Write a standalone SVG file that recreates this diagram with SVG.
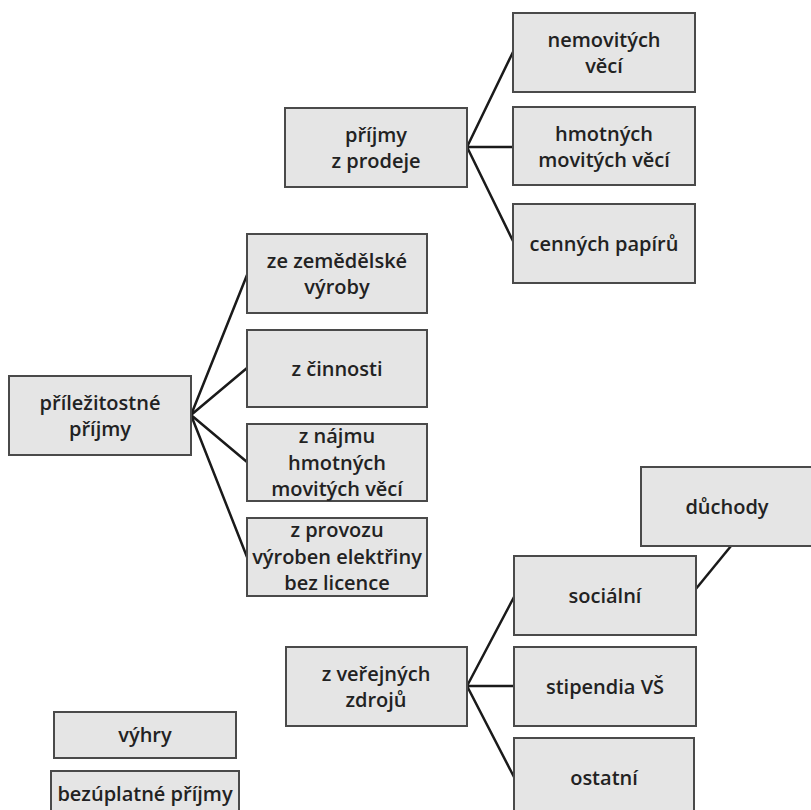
<svg xmlns="http://www.w3.org/2000/svg" width="811" height="810" viewBox="0 0 811 810">
<style>
.box{fill:#e5e5e5;stroke:#4a4a4a;stroke-width:2}
.t{font-family:"Open Sans","Noto Sans","Liberation Sans",sans-serif;font-weight:600;font-size:20px;fill:#222;text-anchor:middle}
.c{stroke:#1a1a1a;stroke-width:2.5;fill:none;stroke-linecap:round}
</style>
<rect width="811" height="810" fill="#fff"/>
<g id="connectors" class="c">
<path d="M467,147 L513,52 M467,147 L513,147 M467,147 L513,241"/>
<path d="M191,415 L247,275 M191,415 L247,368 M191,415 L247,462 M191,415 L247,557"/>
<path d="M467,686 L514,597 M467,686 L514,686 M467,686 L514,777"/>
<path d="M731,546 L695,590"/>
</g>
<g id="prijmy-z-prodeje"><rect class="box" x="285" y="108" width="182" height="79"/><text class="t" x="376" y="142">příjmy</text><text class="t" x="376" y="168">z prodeje</text></g>
<g id="nemovitych-veci"><rect class="box" x="513" y="13" width="182" height="79"/><text class="t" x="604" y="47">nemovitých</text><text class="t" x="604" y="73">věcí</text></g>
<g id="hmotnych-movitych-veci"><rect class="box" x="513" y="107" width="182" height="78"/><text class="t" x="604" y="141">hmotných</text><text class="t" x="604" y="167">movitých věcí</text></g>
<g id="cennych-papiru"><rect class="box" x="513" y="204" width="182" height="79"/><text class="t" x="604" y="251">cenných papírů</text></g>
<g id="prilezitostne-prijmy"><rect class="box" x="9" y="376" width="182" height="79"/><text class="t" x="100" y="410">příležitostné</text><text class="t" x="100" y="436">příjmy</text></g>
<g id="ze-zemedelske-vyroby"><rect class="box" x="247" y="234" width="180" height="79"/><text class="t" x="337" y="268">ze zemědělské</text><text class="t" x="337" y="294">výroby</text></g>
<g id="z-cinnosti"><rect class="box" x="247" y="330" width="180" height="77"/><text class="t" x="337" y="376">z činnosti</text></g>
<g id="z-najmu"><rect class="box" x="247" y="424" width="180" height="77"/><text class="t" x="337" y="443">z nájmu</text><text class="t" x="337" y="470">hmotných</text><text class="t" x="337" y="496">movitých věcí</text></g>
<g id="z-provozu"><rect class="box" x="247" y="518" width="180" height="78"/><text class="t" x="337" y="537">z provozu</text><text class="t" x="337" y="564">výroben elektřiny</text><text class="t" x="337" y="590">bez licence</text></g>
<g id="duchody"><rect class="box" x="641" y="467" width="182" height="79"/><text class="t" x="727" y="514">důchody</text></g>
<g id="socialni"><rect class="box" x="514" y="556" width="182" height="79"/><text class="t" x="605" y="603">sociální</text></g>
<g id="stipendia-vs"><rect class="box" x="514" y="647" width="182" height="79"/><text class="t" x="605" y="694">stipendia VŠ</text></g>
<g id="ostatni"><rect class="box" x="514" y="738" width="180" height="79"/><text class="t" x="604" y="785">ostatní</text></g>
<g id="z-verejnych-zdroju"><rect class="box" x="286" y="647" width="181" height="79"/><text class="t" x="376" y="681">z veřejných</text><text class="t" x="376" y="707">zdrojů</text></g>
<g id="vyhry"><rect class="box" x="54" y="712" width="182" height="46"/><text class="t" x="145" y="742">výhry</text></g>
<g id="bezuplatne-prijmy"><rect class="box" x="51" y="771" width="188" height="46"/><text class="t" x="145" y="801">bezúplatné příjmy</text></g>
</svg>
